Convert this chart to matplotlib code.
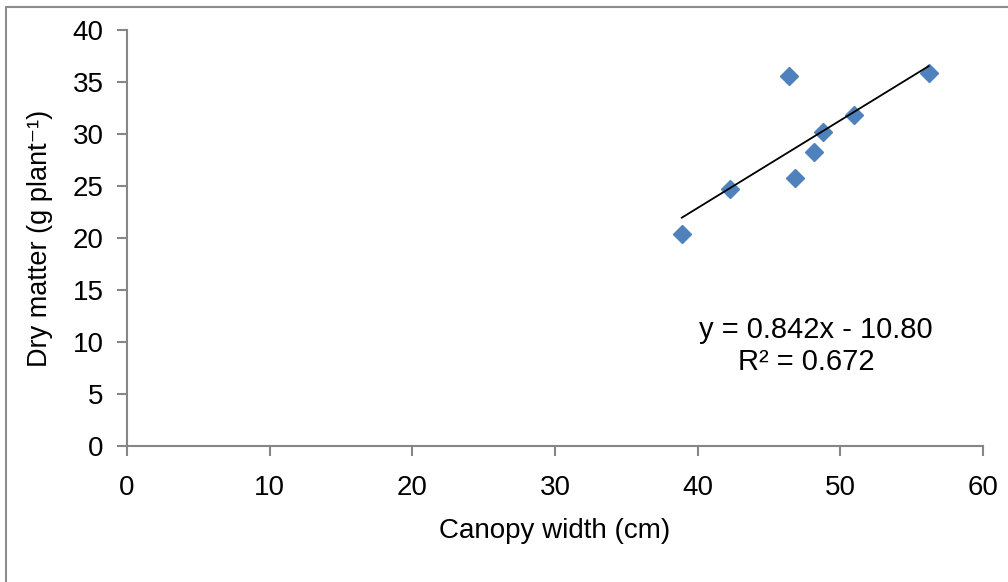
import matplotlib.pyplot as plt
from matplotlib.patches import Rectangle

# Canopy width (cm) vs dry matter (g plant-1)
canopy_width = [38.9, 42.3, 46.8, 46.4, 48.2, 48.8, 51.0, 56.2]
dry_matter = [20.4, 24.7, 25.8, 35.6, 28.3, 30.2, 31.8, 35.9]

# Linear trend line shown on the chart
slope = 0.842
intercept = -10.80
r_squared = 0.672

x_ticks = [0, 10, 20, 30, 40, 50, 60]
y_ticks = [0, 5, 10, 15, 20, 25, 30, 35, 40]

plt.rcParams['font.family'] = ['Liberation Sans', 'DejaVu Sans']

fig = plt.figure(figsize=(10.08, 5.82), dpi=100)
ax = fig.add_axes([0.126, 0.2337, 0.849, 0.7148])

# Outer chart border
fig.patches.append(Rectangle((0.006, -0.02), 1.1, 1.008, transform=fig.transFigure,
                             fill=False, edgecolor='#8c8c8c', linewidth=1.5))

# Data points
ax.plot(canopy_width, dry_matter, linestyle='none', marker='D', markersize=9.5,
        color='#4f81bd', zorder=3)

# Trend line over the data range
x0 = min(canopy_width)
x1 = max(canopy_width)
ax.plot([x0, x1], [slope * x0 + intercept, slope * x1 + intercept], color='black',
        linewidth=1.3, zorder=4)

# Equation text
ax.text(48.3, 11.15, 'y = %.3fx - %.2f' % (slope, -intercept), fontsize=21,
        ha='center', va='center')
ax.text(47.65, 8.1, 'R\u00b2 = %.3f' % r_squared, fontsize=21, ha='center', va='center')

ax.set_xlim(0, 60)
ax.set_ylim(0, 40)
ax.set_xticks(x_ticks)
ax.set_yticks(y_ticks)

for side in ['top', 'right']:
    ax.spines[side].set_visible(False)
for side in ['left', 'bottom']:
    ax.spines[side].set_color('#868686')
    ax.spines[side].set_linewidth(1.5)

ax.tick_params(axis='both', direction='out', length=7, width=1.5, color='#868686',
               labelsize=20)
ax.tick_params(axis='x', pad=14)
ax.tick_params(axis='y', pad=10)

ax.set_xlabel('Canopy width (cm)', fontsize=20, labelpad=12)
ax.set_ylabel('Dry matter (g plant\u207b\u00b9)', fontsize=19.5, labelpad=14)

fig.savefig('out.png', dpi=100)
